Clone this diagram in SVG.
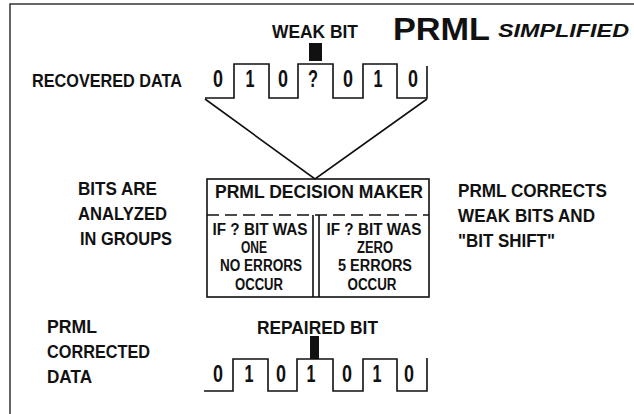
<svg xmlns="http://www.w3.org/2000/svg" width="634" height="414" viewBox="0 0 634 414">
<style>
text{font-family:"Liberation Sans","Arial",sans-serif;font-weight:bold;fill:#111;}
.lbl{font-size:18px;}
.big{font-size:19px;}
.dg{font-size:23px;text-anchor:middle;}
.sm{font-size:16px;text-anchor:middle;}
.ln{fill:none;stroke:#111;stroke-width:1.6;}
.frame{fill:none;stroke:#333;stroke-width:1.5;}
</style>
<rect width="634" height="414" fill="#fff"/>
<path class="frame" d="M10,414 V4 H634"/>

<g id="title">
<text x="393" y="40" style="font-size:32px" textLength="97" lengthAdjust="spacingAndGlyphs">PRML</text>
<text x="498" y="37" style="font-size:19px;font-style:italic" textLength="131" lengthAdjust="spacingAndGlyphs">SIMPLIFIED</text>
</g>

<g id="weak-bit">
<text x="272" y="38" class="big" textLength="86" lengthAdjust="spacingAndGlyphs">WEAK BIT</text>
<rect x="309" y="43" width="13" height="18" fill="#111"/>
</g>

<g id="recovered-data">
<text x="32" y="87" class="big" textLength="150" lengthAdjust="spacingAndGlyphs">RECOVERED DATA</text>
<path class="ln" d="M205,98 H234 V64 H269 V98 H298 V64 H333 V98 H363 V64 H397 V98 H427 V66"/>
<text x="218" y="87" class="dg" textLength="10" lengthAdjust="spacingAndGlyphs">0</text>
<text x="250" y="87" class="dg" textLength="9" lengthAdjust="spacingAndGlyphs">1</text>
<text x="283" y="87" class="dg" textLength="10" lengthAdjust="spacingAndGlyphs">0</text>
<text x="313" y="87" class="dg" textLength="10" lengthAdjust="spacingAndGlyphs">?</text>
<text x="348" y="87" class="dg" textLength="10" lengthAdjust="spacingAndGlyphs">0</text>
<text x="378" y="87" class="dg" textLength="9" lengthAdjust="spacingAndGlyphs">1</text>
<text x="413" y="87" class="dg" textLength="10" lengthAdjust="spacingAndGlyphs">0</text>
</g>

<g id="connectors">
<path class="ln" d="M205,99 L315,179 L427,99"/>
</g>

<g id="decision-maker">
<rect class="ln" x="207" y="179" width="222" height="118"/>
<text x="215" y="198" class="lbl" textLength="208" lengthAdjust="spacingAndGlyphs">PRML DECISION MAKER</text>
<path class="ln" d="M207,215 H429" stroke-dasharray="12 6"/>
<path class="ln" d="M313,215 V297 M319,215 V297"/>
<text x="260" y="235" class="sm" textLength="95" lengthAdjust="spacingAndGlyphs">IF ? BIT WAS</text>
<text x="254" y="253" class="sm" textLength="26" lengthAdjust="spacingAndGlyphs">ONE</text>
<text x="261" y="271" class="sm" textLength="82" lengthAdjust="spacingAndGlyphs">NO ERRORS</text>
<text x="259" y="290" class="sm" textLength="48" lengthAdjust="spacingAndGlyphs">OCCUR</text>
<text x="374" y="235" class="sm" textLength="95" lengthAdjust="spacingAndGlyphs">IF ? BIT WAS</text>
<text x="375" y="253" class="sm" textLength="36" lengthAdjust="spacingAndGlyphs">ZERO</text>
<text x="375" y="271" class="sm" textLength="74" lengthAdjust="spacingAndGlyphs">5 ERRORS</text>
<text x="372" y="290" class="sm" textLength="49" lengthAdjust="spacingAndGlyphs">OCCUR</text>
</g>

<g id="note-groups">
<text x="78" y="195" class="lbl" textLength="79" lengthAdjust="spacingAndGlyphs">BITS ARE</text>
<text x="78" y="220" class="lbl" textLength="89" lengthAdjust="spacingAndGlyphs">ANALYZED</text>
<text x="80" y="245" class="lbl" textLength="92" lengthAdjust="spacingAndGlyphs">IN GROUPS</text>
</g>

<g id="note-corrects">
<text x="458" y="197" class="lbl" textLength="149" lengthAdjust="spacingAndGlyphs">PRML CORRECTS</text>
<text x="458" y="222" class="lbl" textLength="137" lengthAdjust="spacingAndGlyphs">WEAK BITS AND</text>
<text x="458" y="247" class="lbl" textLength="97" lengthAdjust="spacingAndGlyphs">"BIT SHIFT"</text>
</g>

<g id="corrected-data">
<text x="47" y="333" class="lbl" textLength="50" lengthAdjust="spacingAndGlyphs">PRML</text>
<text x="47" y="358" class="lbl" textLength="103" lengthAdjust="spacingAndGlyphs">CORRECTED</text>
<text x="47" y="383" class="lbl" textLength="45" lengthAdjust="spacingAndGlyphs">DATA</text>
<text x="257" y="334" class="lbl" textLength="121" lengthAdjust="spacingAndGlyphs">REPAIRED BIT</text>
<rect x="310" y="336" width="9" height="23" fill="#111"/>
<path class="ln" d="M204,391 H233 V359 H268 V391 H297 V359 H333 V391 H363 V359 H397 V391 H427 V358"/>
<text x="218" y="382" class="dg" textLength="10" lengthAdjust="spacingAndGlyphs">0</text>
<text x="249" y="382" class="dg" textLength="9" lengthAdjust="spacingAndGlyphs">1</text>
<text x="281" y="382" class="dg" textLength="10" lengthAdjust="spacingAndGlyphs">0</text>
<text x="311" y="382" class="dg" textLength="9" lengthAdjust="spacingAndGlyphs">1</text>
<text x="347" y="382" class="dg" textLength="10" lengthAdjust="spacingAndGlyphs">0</text>
<text x="377" y="382" class="dg" textLength="9" lengthAdjust="spacingAndGlyphs">1</text>
<text x="409" y="382" class="dg" textLength="10" lengthAdjust="spacingAndGlyphs">0</text>
</g>
</svg>
